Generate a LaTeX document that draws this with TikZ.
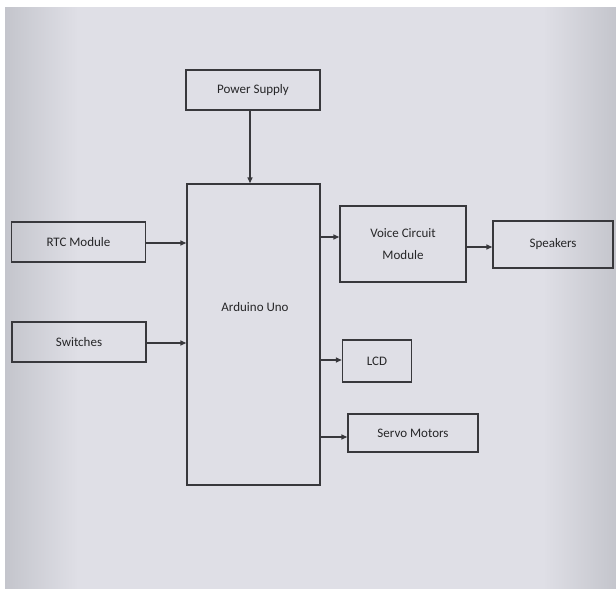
\documentclass[tikz,border=0pt]{standalone}
\usepackage{fontspec}
\setmainfont{Carlito}
\usetikzlibrary{arrows.meta}
\definecolor{bgEdge}{HTML}{C4C5CC}
\definecolor{bgMid}{HTML}{DFDFE6}
\definecolor{lineC}{HTML}{38383C}
\definecolor{textC}{HTML}{262628}
\pgfdeclarehorizontalshading{bgshade}{100bp}{color(0bp)=(bgEdge); color(25bp)=(bgEdge); color(31bp)=(bgMid); color(69bp)=(bgMid); color(75bp)=(bgEdge); color(100bp)=(bgEdge)}
\tikzset{
  blockbox/.style={draw=lineC, line width=1.4pt, rectangle, inner sep=0pt, text=textC,
    font=\fontsize{13}{22}\selectfont, align=center},
  arr/.style={draw=lineC, line width=1.4pt, -{Triangle[length=6pt,width=5pt]}},
  lbl/.style={text=textC, font=\fontsize{13}{14}\selectfont, inner sep=0pt}
}
\begin{document}
\begin{tikzpicture}[x=1pt,y=-1pt]
\useasboundingbox (0,0) rectangle (616,590);
\fill[white] (0,0) rectangle (616,590);
\shade[shading=bgshade] (5,7) rectangle (616,588);

\node[blockbox, minimum width=134pt, minimum height=40pt] (ps) at (253,90) {Power Supply};
\node[blockbox, minimum width=133pt, minimum height=301pt] (ard) at (253.5,334.5) {};
\node[lbl] (ardlbl) at (255,307) {Arduino Uno};
\node[blockbox, minimum width=134pt, minimum height=40pt] (rtc) at (78.5,242) {RTC Module};
\node[blockbox, minimum width=134pt, minimum height=40pt] (sw) at (79,342) {Switches};
\node[blockbox, minimum width=126pt, minimum height=76pt] (voice) at (403,244) {Voice Circuit\\Module};
\node[blockbox, minimum width=120pt, minimum height=47pt] (spk) at (553,244.5) {Speakers};
\node[blockbox, minimum width=69pt, minimum height=42pt] (lcd) at (377,361) {LCD};
\node[blockbox, minimum width=130pt, minimum height=38pt] (servo) at (413,433) {Servo Motors};

\draw[arr] ([xshift=-3pt]ps.south) -- ([xshift=-3pt]ps.south |- ard.north);
\draw[arr] ([yshift=-1pt]rtc.east) -- ([yshift=-1pt]rtc.east -| ard.west);
\draw[arr] ([yshift=-1pt]sw.east) -- ([yshift=-1pt]sw.east -| ard.west);
\draw[arr] ([yshift=7pt]voice.west -| ard.east) -- ([yshift=7pt]voice.west);
\draw[arr] ([yshift=-3pt]voice.east) -- ([yshift=-3pt]voice.east -| spk.west);
\draw[arr] ([yshift=1pt]lcd.west -| ard.east) -- ([yshift=1pt]lcd.west);
\draw[arr] ([yshift=-4pt]servo.west -| ard.east) -- ([yshift=-4pt]servo.west);
\end{tikzpicture}
\end{document}
